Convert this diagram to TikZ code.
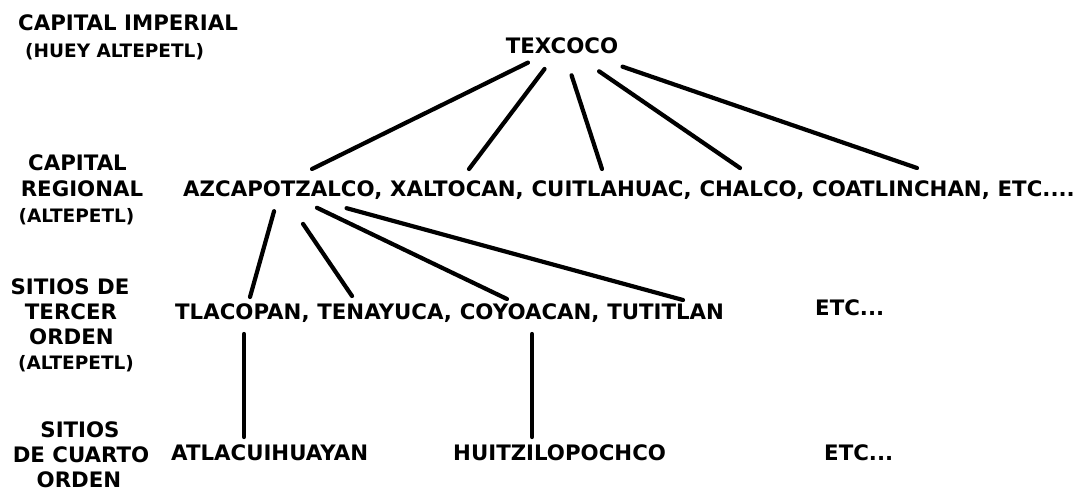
\documentclass[tikz,border=0pt]{standalone}
\usepackage{fontspec}
\setmainfont{DejaVu Sans}
\usetikzlibrary{calc}
\tikzset{
  lbl/.style={font=\fontsize{21.3}{21.3}\selectfont\bfseries, inner sep=0pt, text=black},
  sml/.style={font=\fontsize{18.5}{18.5}\selectfont\bfseries, inner sep=0pt, text=black},
  edge/.style={line width=4.2pt, line cap=round, draw=black}
}
\begin{document}
\begin{tikzpicture}[x=1pt,y=-1pt]
\fill[white] (0,0) rectangle (1075,491);
\useasboundingbox (0,0) rectangle (1075,491);

% left level labels
\node[lbl, anchor=base west] (capimp) at (18,30.6) {CAPITAL IMPERIAL};
\node[sml, anchor=base west] (huey) at (25,57.5) {(HUEY ALTEPETL)};

\node[lbl, anchor=base] (capreg1) at (77.5,170.6) {CAPITAL};
\node[lbl, anchor=base] (capreg2) at (82,196.6) {REGIONAL};
\node[sml, anchor=base] (capreg3) at (76.5,222) {(ALTEPETL)};

\node[lbl, anchor=base] (ter1) at (70,294.6) {SITIOS DE};
\node[lbl, anchor=base] (ter2) at (71,319.6) {TERCER};
\node[lbl, anchor=base] (ter3) at (71.5,344.6) {ORDEN};
\node[sml, anchor=base] (ter4) at (76,369) {(ALTEPETL)};

\node[lbl, anchor=base] (cua1) at (80,437.6) {SITIOS};
\node[lbl, anchor=base] (cua2) at (81,462.6) {DE CUARTO};
\node[lbl, anchor=base] (cua3) at (79,487.6) {ORDEN};

% level 1
\node[lbl, anchor=base] (tex) at (562,53.6) {TEXCOCO};

% level 2
\node[lbl, anchor=base west] (azc) at (183,196.6) {AZCAPOTZALCO,};
\node[lbl, anchor=base west] (xal) at ([xshift=7.4pt]azc.base east) {XALTOCAN,};
\node[lbl, anchor=base west] (cui) at ([xshift=7.4pt]xal.base east) {CUITLAHUAC,};
\node[lbl, anchor=base west] (cha) at ([xshift=7.4pt]cui.base east) {CHALCO,};
\node[lbl, anchor=base west] (coa) at ([xshift=7.4pt]cha.base east) {COATLINCHAN,};
\node[lbl, anchor=base west] (etc2) at ([xshift=7.4pt]coa.base east) {ETC....};

% level 3
\node[lbl, anchor=base west] (tla) at (175,319.6) {TLACOPAN,};
\node[lbl, anchor=base west] (ten) at ([xshift=7.4pt]tla.base east) {TENAYUCA,};
\node[lbl, anchor=base west] (coy) at ([xshift=7.4pt]ten.base east) {COYOACAN,};
\node[lbl, anchor=base west] (tut) at ([xshift=7.4pt]coy.base east) {TUTITLAN};
\node[lbl, anchor=base west] (etc3) at (815,315.6) {ETC...};

% level 4
\node[lbl, anchor=base west] (atl) at (171,460.6) {ATLACUIHUAYAN};
\node[lbl, anchor=base west] (hui) at (453,460.6) {HUITZILOPOCHCO};
\node[lbl, anchor=base west] (etc4) at (824,460.6) {ETC...};

% connector end points
\coordinate (e1) at (312,169);
\coordinate (e2) at (469,169);
\coordinate (e3) at (602,169);
\coordinate (e4) at (740,168);
\coordinate (e5) at (917,168);
\coordinate (f1) at (250,297);
\coordinate (f2) at (352,296);
\coordinate (f3) at (507,299);
\coordinate (f4) at (683,300);
\coordinate (g1t) at (244,334);
\coordinate (g1b) at (244,437);
\coordinate (g2t) at (532,334);
\coordinate (g2b) at (532,437);

% TEXCOCO fan
\draw[edge] ($(tex.center)!38pt!(e1)$) -- (e1);
\draw[edge] ($(tex.center)!29pt!(e2)$) -- (e2);
\draw[edge] ($(tex.center)!31pt!(e3)$) -- (e3);
\draw[edge] ($(tex.center)!45pt!(e4)$) -- (e4);
\draw[edge] ($(tex.center)!64pt!(e5)$) -- (e5);

% AZCAPOTZALCO fan
\coordinate (azcc) at (280,190);
\draw[edge] ($(azcc)!22pt!(f1)$) -- (f1);
\draw[edge] ($(azcc)!41pt!(f2)$) -- (f2);
\draw[edge] ($(azcc)!41pt!(f3)$) -- (f3);
\draw[edge] ($(azcc)!69pt!(f4)$) -- (f4);

% verticals
\draw[edge] (g1t) -- (g1b);
\draw[edge] (g2t) -- (g2b);
\end{tikzpicture}
\end{document}
